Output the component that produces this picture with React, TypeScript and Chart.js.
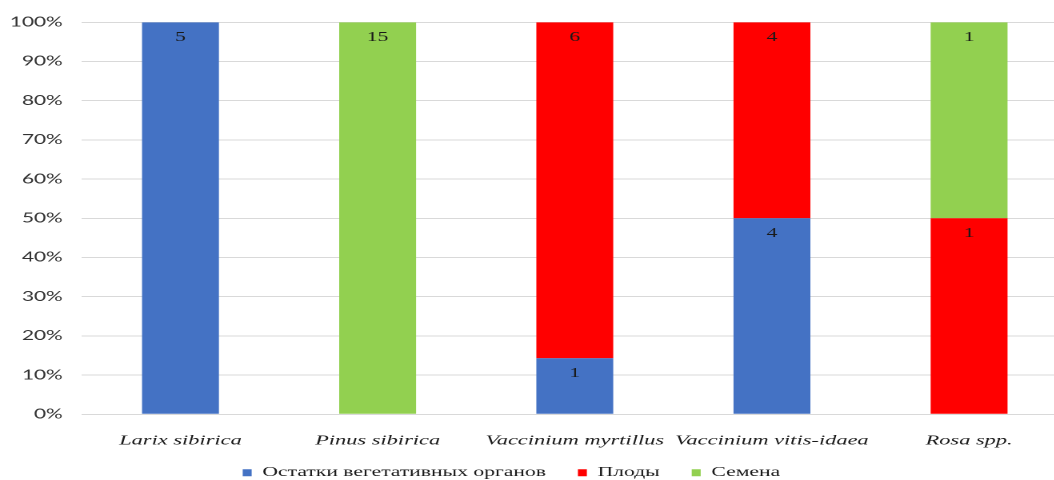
import React, { useEffect, useRef } from 'react';
import { Chart, registerables } from 'chart.js';

Chart.register(...registerables);

// ---- data ----
const categories = ['Larix sibirica', 'Pinus sibirica', 'Vaccinium myrtillus', 'Vaccinium vitis-idaea', 'Rosa spp.'];
const seriesNames = ['Остатки вегетативных органов', 'Плоды', 'Семена'];
const vegetativeCounts = [5, 0, 1, 4, 0];
const fruitCounts = [0, 0, 6, 4, 1];
const seedCounts = [0, 15, 0, 0, 1];
const seriesColors = ['#4472C4', '#FF0000', '#92D050'];
const yTickStep = 10;
const yTickSuffix = '%';

// ---- layout constants (logical px, canvas is stretched horizontally) ----
const STRETCH = 1.6;
const LOGICAL_W = 680;
const HEIGHT = 480;
const PLOT_LEFT = 51.2;
const PLOT_RIGHT = 667.3;
const PLOT_TOP = 22.3;
const X_AXIS_H = 40;
const LEGEND_START = 151.7;
const LEGEND_TEXT_Y = 472.7;
const LEGEND_FONT = 13.5;
const LEGEND_PAD = 20;
// legend box height = font + pad + 10
const BOTTOM_PAD = HEIGHT - 414.3 - X_AXIS_H - (LEGEND_FONT + LEGEND_PAD + 10);

const totals = categories.map((_, i) => vegetativeCounts[i] + fruitCounts[i] + seedCounts[i]);
const toPercent = (counts: number[]) => counts.map((c, i) => (totals[i] ? (c / totals[i]) * 100 : 0));

const valueLabels = {
  id: 'valueLabels',
  afterDatasetsDraw(chart: any) {
    const ctx = chart.ctx;
    ctx.save();
    ctx.font = '13.5px "Liberation Serif", serif';
    ctx.fillStyle = '#1a1a1a';
    ctx.textAlign = 'center';
    ctx.textBaseline = 'middle';
    chart.data.datasets.forEach((ds: any, di: number) => {
      const meta = chart.getDatasetMeta(di);
      meta.data.forEach((bar: any, i: number) => {
        const n = ds.counts[i];
        if (!n) return;
        ctx.fillText(String(n), bar.x, bar.y + 15);
      });
    });
    ctx.restore();
  },
};

const legendPlacement = {
  id: 'legendPlacement',
  afterLayout(chart: any) {
    const lg = chart.legend;
    if (!lg || !lg.lineWidths) return;
    const P = lg.options.labels.padding;
    const start = (lg.left + P + lg.right - lg.lineWidths[0]) / 2;
    const dx = LEGEND_START - start;
    lg.left += dx;
    lg.right += dx;
    const textCenter = lg.top + P + LEGEND_FONT / 2;
    const dy = LEGEND_TEXT_Y - textCenter;
    lg.top += dy;
    lg.bottom += dy;
  },
};

export default function App() {
  const canvasRef = useRef<HTMLCanvasElement | null>(null);

  useEffect(() => {
    if (!canvasRef.current) return;
    const countsList = [vegetativeCounts, fruitCounts, seedCounts];
    const chart = new Chart(canvasRef.current, {
      type: 'bar',
      data: {
        labels: categories,
        datasets: countsList.map((counts, k) => ({
          label: seriesNames[k],
          data: toPercent(counts),
          counts,
          backgroundColor: seriesColors[k],
          borderWidth: 0,
          barPercentage: 0.39,
          categoryPercentage: 1,
        })) as any,
      },
      options: {
        animation: false,
        responsive: true,
        maintainAspectRatio: false,
        devicePixelRatio: 2,
        layout: { padding: { top: PLOT_TOP, left: 0, right: LOGICAL_W - PLOT_RIGHT, bottom: BOTTOM_PAD } },
        scales: {
          x: {
            stacked: true,
            grid: { display: false },
            border: { display: false },
            ticks: {
              font: { family: '"Liberation Serif", serif', size: 14, style: 'italic' },
              color: '#1a1a1a',
              padding: 10,
              maxRotation: 0,
              minRotation: 0,
              autoSkip: false,
            },
            afterFit: (s: any) => {
              s.height = X_AXIS_H;
            },
          },
          y: {
            stacked: true,
            min: 0,
            max: 100,
            ticks: {
              stepSize: yTickStep,
              callback: (v: any) => v + yTickSuffix,
              font: { family: 'Lato', size: 13 },
              color: '#333333',
              padding: 12,
            },
            grid: { color: '#d9d9d9', drawTicks: false, lineWidth: 1 },
            border: { display: false },
            afterFit: (s: any) => {
              s.width = PLOT_LEFT;
            },
          },
        },
        plugins: {
          legend: {
            position: 'bottom',
            labels: {
              font: { family: '"Liberation Serif", serif', size: LEGEND_FONT },
              color: '#1a1a1a',
              boxWidth: 5.6,
              boxHeight: 7,
              padding: LEGEND_PAD,
            },
          },
          tooltip: { enabled: false },
        },
      } as any,
      plugins: [valueLabels, legendPlacement],
    });
    return () => chart.destroy();
  }, []);

  return (
    <div
      style={{
        position: 'fixed',
        left: 0,
        top: 0,
        width: 1054,
        height: HEIGHT,
        overflow: 'hidden',
        background: '#fff',
      }}
    >
      <div
        style={{
          position: 'relative',
          width: LOGICAL_W,
          height: HEIGHT,
          transform: `scaleX(${STRETCH})`,
          transformOrigin: '0 0',
        }}
      >
        <canvas ref={canvasRef} />
      </div>
    </div>
  );
}
